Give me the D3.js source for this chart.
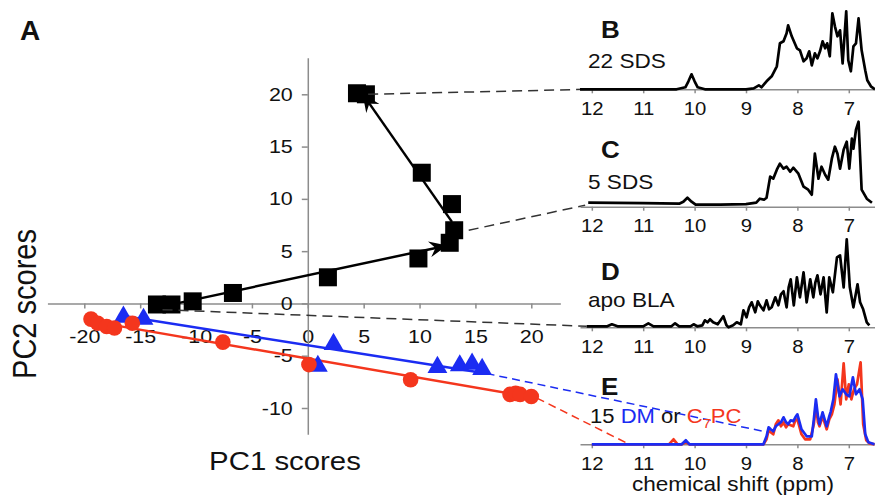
<!DOCTYPE html>
<html>
<head>
<meta charset="utf-8">
<script src="https://cdn.jsdelivr.net/npm/d3@7"></script>
<style>
body { margin: 0; background: #fff; }
text { font-family: "Liberation Sans", Arial, Helvetica, sans-serif; fill: #111; }
</style>
</head>
<body>
<svg id="fig" width="875" height="497"></svg>
<script>
// ---- panel A: PCA scores ----
const xTicks = [-20, -15, -10, -5, 0, 5, 10, 15, 20];
const yTicks = [-10, -5, 0, 5, 10, 15, 20];

// SDS titration (black squares)
const sdsPC1 = [4.4, 5.2, 10.2, 12.9, 13.1, 12.7, 9.9, 1.8, -6.7, -10.3, -12.2, -13.5];
const sdsPC2 = [20.1, 20.0, 12.5, 9.5, 7.0, 5.8, 4.3, 2.5, 1.0, 0.2, -0.1, -0.1];
// DM titration (blue triangles)
const dmPC1 = [-16.5, -14.7, 2.3, 0.9, 11.6, 13.6, 14.7, 15.6];
const dmPC2 = [-1.2, -1.4, -3.8, -5.9, -6.0, -5.85, -5.7, -6.2];
// C7PC titration (red circles)
const pcPC1 = [-19.4, -18.8, -18.0, -17.3, -15.7, -7.6, 0.1, 9.2, 18.1, 18.6, 19.0, 20.0];
const pcPC2 = [-1.5, -1.9, -2.2, -2.35, -1.9, -3.7, -5.85, -7.3, -8.7, -8.6, -8.7, -8.9];

// trend lines
const sdsArrow1 = [[-13.5, -0.4], [12.3, 5.5]];
const sdsArrow2 = [[12.9, 7.8], [5.0, 19.9]];
const dmFit = [[-16.5, -1.2], [16.0, -6.7]];
const pcFit = [[-17.5, -2.05], [20.5, -9.05]];

// ---- panels B-E: NMR spectra (ppm, intensity) ----
const ppmTicks = [12, 11, 10, 9, 8, 7];

const sds22Ppm = [12.23, 10.35, 10.18, 10.12, 10.06, 10.0, 9.94, 9.8, 9.0, 8.85, 8.75, 8.70, 8.60, 8.50, 8.40, 8.34, 8.27, 8.21, 8.18, 8.11, 8.01, 7.95, 7.88, 7.82, 7.77, 7.72, 7.66, 7.61, 7.56, 7.51, 7.46, 7.42, 7.37, 7.32, 7.27, 7.22, 7.17, 7.12, 7.05, 7.01, 6.96, 6.91, 6.86, 6.81, 6.75, 6.68, 6.64, 6.57, 6.49];
const sds22Int = [0, 0, 2, 8, 15, 8, 2, 0, 0, 1, 4, 2, 8, 13, 23, 46, 48, 56, 64, 53, 41, 39, 28, 31, 38, 24, 36, 31, 38, 48, 41, 46, 33, 76, 63, 53, 59, 26, 78, 29, 18, 43, 46, 71, 39, 19, 9, 3, 0];

const sds5Ppm = [12.07, 11.0, 10.3, 10.22, 10.14, 10.06, 9.98, 9.5, 9.0, 8.8, 8.73, 8.65, 8.60, 8.53, 8.47, 8.40, 8.34, 8.27, 8.21, 8.14, 8.08, 7.98, 7.88, 7.79, 7.72, 7.66, 7.59, 7.53, 7.46, 7.40, 7.33, 7.27, 7.22, 7.17, 7.10, 7.04, 6.99, 6.94, 6.91, 6.86, 6.81, 6.75, 6.65, 6.55];
const sds5Int = [4, 3.5, 3, 5, 9, 5, 2, 2, 2.5, 4, 8, 7, 9, 30, 28, 37, 43, 38, 40, 35, 39, 33, 20, 17, 12, 53, 28, 40, 32, 27, 48, 60, 53, 38, 57, 65, 38, 68, 58, 77, 85, 17, 8, 4];

const apoPpm = [12.1, 11.7, 11.61, 11.5, 11.0, 10.90, 10.8, 10.45, 10.38, 10.3, 10.08, 10.02, 9.95, 9.85, 9.80, 9.75, 9.70, 9.64, 9.55, 9.44, 9.38, 9.34, 9.25, 9.18, 9.1, 9.05, 8.99, 8.94, 8.89, 8.82, 8.77, 8.73, 8.66, 8.60, 8.55, 8.50, 8.43, 8.37, 8.32, 8.27, 8.21, 8.17, 8.13, 8.07, 8.01, 7.95, 7.88, 7.82, 7.75, 7.69, 7.65, 7.61, 7.55, 7.49, 7.43, 7.38, 7.31, 7.23, 7.17, 7.10, 7.04, 6.98, 6.91, 6.83, 6.78, 6.72, 6.65, 6.60];
const apoInt = [1, 1, 3, 1, 1, 4, 1, 1, 4, 1, 1, 3, 1, 2, 7, 5, 8, 5, 3, 11, 2, 0, 2, 5, 3, 17, 10, 20, 25, 15, 26, 22, 17, 27, 18, 20, 30, 22, 33, 36, 20, 40, 48, 22, 50, 30, 55, 25, 48, 30, 45, 52, 33, 50, 15, 50, 35, 70, 72, 40, 88, 40, 20, 43, 25, 18, 5, 2];

const dmPpm = [12.0, 10.25, 10.17, 10.1, 9.0, 8.66, 8.60, 8.56, 8.52, 8.47, 8.42, 8.37, 8.32, 8.27, 8.22, 8.18, 8.13, 8.08, 8.04, 8.00, 7.92, 7.82, 7.72, 7.68, 7.64, 7.60, 7.57, 7.51, 7.43, 7.38, 7.35, 7.30, 7.25, 7.18, 7.12, 7.05, 6.99, 6.92, 6.86, 6.79, 6.73, 6.68, 6.62, 6.50];
const dmInt = [0, 0, 4, 0, 0, 0, 8, 17, 15, 13, 18, 20, 22, 27, 22, 20, 24, 23, 27, 30, 15, 8, 8, 25, 45, 28, 20, 32, 18, 28, 33, 45, 70, 48, 55, 50, 48, 67, 50, 55, 45, 10, 2, 0];

const pcPpm = [12.0, 10.5, 10.41, 10.33, 10.25, 10.17, 10.1, 9.0, 8.66, 8.60, 8.56, 8.52, 8.47, 8.42, 8.37, 8.32, 8.27, 8.22, 8.18, 8.13, 8.08, 8.04, 8.00, 7.92, 7.85, 7.75, 7.68, 7.64, 7.60, 7.57, 7.51, 7.43, 7.38, 7.33, 7.28, 7.22, 7.16, 7.10, 7.05, 7.00, 6.95, 6.90, 6.84, 6.77, 6.72, 6.66, 6.60, 6.50];
const pcInt = [0, 0, 5, 0, 0, 2, 0, 0, 0, 5, 14, 12, 10, 20, 24, 18, 22, 17, 20, 19, 18, 24, 25, 10, 5, 5, 20, 40, 22, 18, 28, 15, 25, 30, 40, 65, 40, 81, 45, 60, 45, 55, 60, 82, 20, 4, 1, 0];

const BLUE = '#1b2cf2';
const RED = '#f4361d';
const AXIS = '#8c8c8c';
const SX = 1.13; // glyphs in the figure are a bit wide

const svg = d3.select('#fig');

// horizontal stretch of a text around its anchor x
function stretch(sel, k) {
    sel.each(function() {
        let t = d3.select(this);
        let x = +t.attr('x') || 0;
        t.attr('transform', 'translate(' + x + ',0) scale(' + k + ',1) translate(' + (-x) + ',0)');
    });
}

function zip(a, b) { return a.map((v, i) => [v, b[i]]); }

let plainNum = d => String(d); // hyphen minus, no decimals

// ---------- panel A ----------
let xA = d3.scaleLinear().domain([-20, 20]).range([84.3, 531.3]);
let yA = d3.scaleLinear().domain([-10, 20]).range([408, 94.3]);

let gA = svg.append('g');

let xAxisScale = xA.copy().domain([-23.3, 22.6]).range([xA(-23.3), xA(22.6)]);
let yAxisScale = yA.copy().domain([-12.5, 23.5]).range([yA(-12.5), yA(23.5)]);

let xAxis = gA.append('g').attr('transform', 'translate(0,' + yA(0) + ')')
    .call(d3.axisBottom(xAxisScale).tickValues(xTicks).tickFormat(plainNum)
        .tickSize(5).tickSizeOuter(0).tickPadding(21));
let yAxis = gA.append('g').attr('transform', 'translate(' + xA(0) + ',0)')
    .call(d3.axisLeft(yAxisScale).tickValues(yTicks).tickFormat(plainNum)
        .tickSize(6).tickSizeOuter(0).tickPadding(9));

[xAxis, yAxis].forEach(ax => {
    ax.select('.domain').style('stroke', AXIS).style('stroke-width', 1.5);
    ax.selectAll('.tick line').style('stroke', AXIS).style('stroke-width', 1.5);
    ax.selectAll('.tick text').style('font-size', '19px').style('fill', '#111')
        .style('font-family', '"Liberation Sans", Arial, sans-serif');
    stretch(ax.selectAll('.tick text'), SX);
});

// dashed connectors (under markers)
let xS = d3.scaleLinear().domain([12.23, 6.49]).range([580, 875]);
let panels = [
    {base: 89.3, letter: 'B', ly: 38, label: '22 SDS', tly: 68},
    {base: 206.7, letter: 'C', ly: 158, label: '5 SDS', tly: 189},
    {base: 327.3, letter: 'D', ly: 280, label: 'apo BLA', tly: 307},
    {base: 444.3, letter: 'E', ly: 395, label: null, tly: 423}
];
panels.forEach(p => { p.y = d3.scaleLinear().domain([0, 100]).range([p.base, p.base - 100]); });

let connectors = [
    {from: [5.4, 20.0], panel: 0, to: [12.06, 0], color: '#333', dash: '10,6'},
    {from: [14.4, 7.0], panel: 1, to: [12.13, 1.5], color: '#333', dash: '10,6'},
    {from: [-13.0, -0.6], panel: 2, to: [12.1, 1], color: '#333', dash: '10,6'},
    {from: [16.0, -6.7], panel: 3, to: [8.57, 12], color: BLUE, dash: '8,5'},
    {from: [20.5, -9.05], panel: 3, to: [11.31, 1], color: RED, dash: '8,5'}
];
connectors.forEach(c => {
    svg.append('line')
        .attr('x1', xA(c.from[0])).attr('y1', yA(c.from[1]))
        .attr('x2', xS(c.to[0])).attr('y2', panels[c.panel].y(c.to[1]))
        .style('stroke', c.color).style('stroke-width', 1.5).style('stroke-dasharray', c.dash);
});

// fit lines
let lineA = d3.line().x(d => xA(d[0])).y(d => yA(d[1]));
gA.append('path').datum(dmFit).attr('d', lineA).attr('fill', 'none').style('stroke', BLUE).style('stroke-width', 2.5);
gA.append('path').datum(pcFit).attr('d', lineA).attr('fill', 'none').style('stroke', RED).style('stroke-width', 2.5);

// markers
gA.selectAll('.tri').data(zip(dmPC1, dmPC2)).enter().append('path')
    .attr('class', 'tri')
    .attr('transform', d => 'translate(' + xA(d[0]) + ',' + (yA(d[1]) + 1) + ')')
    .attr('d', d3.symbol().type(d3.symbolTriangle).size(170))
    .style('fill', BLUE);

gA.selectAll('.dot').data(zip(pcPC1, pcPC2)).enter().append('circle')
    .attr('class', 'dot')
    .attr('cx', d => xA(d[0])).attr('cy', d => yA(d[1])).attr('r', 7.8)
    .style('fill', RED);

// arrow marker
svg.append('defs').append('marker')
    .attr('id', 'arrow').attr('markerUnits', 'userSpaceOnUse')
    .attr('viewBox', '0 0 18 16').attr('markerWidth', 18).attr('markerHeight', 16)
    .attr('refX', 16).attr('refY', 8).attr('orient', 'auto')
    .append('path').attr('d', 'M0,0 L18,8 L0,16 L6,8 Z').style('fill', '#000');

[sdsArrow1, sdsArrow2].forEach(a => {
    gA.append('path').datum(a).attr('d', lineA).attr('fill', 'none')
        .style('stroke', '#000').style('stroke-width', 2.5).attr('marker-end', 'url(#arrow)');
});

let sq = 18;
gA.selectAll('.sq').data(zip(sdsPC1, sdsPC2)).enter().append('rect')
    .attr('class', 'sq')
    .attr('x', d => xA(d[0]) - sq / 2).attr('y', d => yA(d[1]) - sq / 2)
    .attr('width', sq).attr('height', sq)
    .style('fill', '#000');

// titles of A
svg.append('text').attr('x', 20).attr('y', 40).text('A')
    .style('font-size', '28px').style('font-weight', 'bold');
svg.append('text').attr('x', 285).attr('y', 470).text('PC1 scores')
    .style('font-size', '26px').style('text-anchor', 'middle').call(stretch, SX);
svg.append('text').attr('transform', 'translate(36,304) scale(' + SX + ',1) rotate(-90)')
    .text('PC2 scores').style('font-size', '29px').style('text-anchor', 'middle');

// ---------- panels B-E ----------
let spectra = [
    {panel: 0, ppm: sds22Ppm, val: sds22Int, color: '#000'},
    {panel: 1, ppm: sds5Ppm, val: sds5Int, color: '#000'},
    {panel: 2, ppm: apoPpm, val: apoInt, color: '#000'},
    {panel: 3, ppm: pcPpm, val: pcInt, color: RED},
    {panel: 3, ppm: dmPpm, val: dmInt, color: BLUE}
];

panels.forEach(p => {
    let ax = svg.append('g').attr('transform', 'translate(0,' + p.base + ')')
        .call(d3.axisBottom(xS).tickValues(ppmTicks).tickFormat(plainNum)
            .tickSize(4).tickSizeOuter(0).tickPadding(9));
    ax.select('.domain').style('stroke', AXIS).style('stroke-width', 1.5);
    ax.selectAll('.tick line').style('stroke', AXIS).style('stroke-width', 1.5);
    ax.selectAll('.tick text').style('font-size', '18px').style('fill', '#111')
        .style('font-family', '"Liberation Sans", Arial, sans-serif');
    stretch(ax.selectAll('.tick text'), SX);

    svg.append('text').attr('x', 601).attr('y', p.ly).text(p.letter)
        .style('font-size', '23px').style('font-weight', 'bold').call(stretch, SX);
    if (p.label) {
        svg.append('text').attr('x', 588).attr('y', p.tly).text(p.label)
            .style('font-size', '20px').call(stretch, SX);
    }
});

spectra.forEach(s => {
    let py = panels[s.panel].y;
    let line = d3.line().x(d => xS(d[0])).y(d => py(d[1]));
    svg.append('path').datum(zip(s.ppm, s.val)).attr('d', line)
        .attr('fill', 'none').style('stroke', s.color).style('stroke-width', 2.7)
        .style('stroke-linejoin', 'round');
});

// legend of E
let leg = svg.append('text').attr('x', 590).attr('y', 423).style('font-size', '19.5px');
leg.append('tspan').text('15 ');
leg.append('tspan').text('DM').style('fill', BLUE);
leg.append('tspan').text(' or ');
leg.append('tspan').text('C').style('fill', RED);
leg.append('tspan').text('7').style('fill', RED).style('font-size', '13px').attr('dy', 5);
leg.append('tspan').text('PC').style('fill', RED).attr('dy', -5);
stretch(leg, SX);

svg.append('text').attr('x', 733).attr('y', 491).text('chemical shift (ppm)')
    .style('font-size', '20px').style('text-anchor', 'middle').call(stretch, SX);
</script>
</body>
</html>
